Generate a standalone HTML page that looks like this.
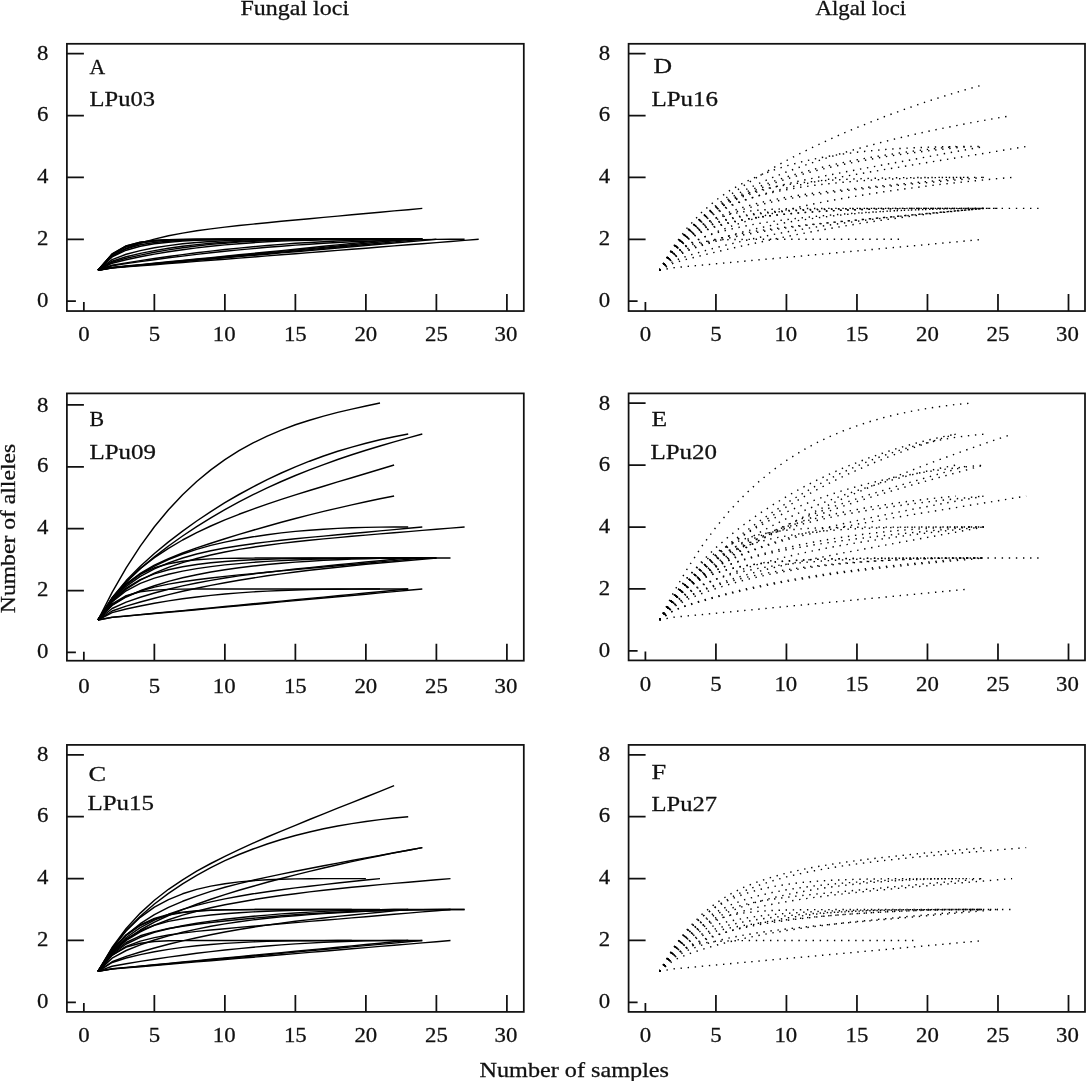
<!DOCTYPE html>
<html lang="en">
<head>
<meta charset="utf-8">
<title>Rarefaction curves: fungal and algal loci</title>
<style>
html, body { margin: 0; padding: 0; background: #fff; }
body { width: 1086px; height: 1081px; overflow: hidden; }
svg { display: block; will-change: transform; }
svg text { font-family: "Liberation Serif", "DejaVu Serif", serif; font-size: 21.0px; fill: #111; stroke: #111; stroke-width: 0.28px; }
svg text.tk { font-size: 22px; }
</style>
</head>
<body>
<svg width="1086" height="1081" viewBox="0 0 1086 1081">
<rect x="0" y="0" width="1086" height="1081" fill="#fff"/>
<g id="panelA">
<g fill="none" stroke="#000" stroke-width="1.45" stroke-linejoin="round">
<path d="M98.0 270.3 L112.1 256.2 L126.2 248.5 L140.3 243.2 L154.4 239.1 L168.5 235.8 L182.6 233.1 L196.7 230.8 L210.8 228.9 L224.9 227.1 L239.0 225.5 L253.1 224.1 L267.2 222.7 L281.3 221.3 L295.4 220.0 L309.5 218.7 L323.6 217.4 L337.7 216.1 L351.8 214.8 L365.9 213.5 L380.0 212.2 L394.1 210.9 L408.2 209.7 L422.3 208.4"/>
<path d="M98.0 270.3 L112.1 267.7 L126.2 266.4 L140.3 265.1 L154.4 263.8 L168.5 262.5 L182.6 261.2 L196.7 259.9 L210.8 258.7 L224.9 257.4 L239.0 256.1 L253.1 254.8 L267.2 253.5 L281.3 252.2 L295.4 250.9 L309.5 249.6 L323.6 248.3 L337.7 247.0 L351.8 245.8 L365.9 244.5 L380.0 243.2 L394.1 241.9 L408.2 240.6 L422.3 239.3"/>
<path d="M98.0 270.3 L112.1 265.3 L126.2 262.9 L140.3 260.6 L154.4 258.5 L168.5 256.5 L182.6 254.6 L196.7 252.8 L210.8 251.1 L224.9 249.5 L239.0 248.1 L253.1 246.7 L267.2 245.5 L281.3 244.4 L295.4 243.3 L309.5 242.5 L323.6 241.7 L337.7 241.0 L351.8 240.4 L365.9 240.0 L380.0 239.6 L394.1 239.4 L408.2 239.3 L422.3 239.3"/>
<path d="M98.0 270.3 L112.1 263.2 L126.2 259.7 L140.3 256.7 L154.4 254.1 L168.5 251.8 L182.6 249.7 L196.7 247.9 L210.8 246.3 L224.9 244.9 L239.0 243.7 L253.1 242.7 L267.2 241.8 L281.3 241.1 L295.4 240.6 L309.5 240.2 L323.6 239.8 L337.7 239.6 L351.8 239.5 L365.9 239.4 L380.0 239.3 L394.1 239.3 L408.2 239.3 L422.3 239.3"/>
<path d="M98.0 270.3 L112.1 261.3 L126.2 256.8 L140.3 253.4 L154.4 250.6 L168.5 248.2 L182.6 246.2 L196.7 244.6 L210.8 243.3 L224.9 242.2 L239.0 241.4 L253.1 240.8 L267.2 240.3 L281.3 239.9 L295.4 239.7 L309.5 239.5 L323.6 239.4 L337.7 239.4 L351.8 239.3 L365.9 239.3 L380.0 239.3 L394.1 239.3 L408.2 239.3 L422.3 239.3"/>
<path d="M98.0 270.3 L112.1 259.6 L126.2 254.3 L140.3 250.6 L154.4 247.8 L168.5 245.6 L182.6 243.8 L196.7 242.5 L210.8 241.5 L224.9 240.8 L239.0 240.2 L253.1 239.9 L267.2 239.6 L281.3 239.5 L295.4 239.4 L309.5 239.4 L323.6 239.3 L337.7 239.3 L351.8 239.3 L365.9 239.3 L380.0 239.3 L394.1 239.3 L408.2 239.3 L422.3 239.3"/>
<path d="M98.0 270.3 L112.1 256.9 L126.2 250.2 L140.3 246.3 L154.4 243.8 L168.5 242.2 L182.6 241.1 L196.7 240.3 L210.8 239.9 L224.9 239.6 L239.0 239.5 L253.1 239.4 L267.2 239.3 L281.3 239.3 L295.4 239.3 L309.5 239.3 L323.6 239.3 L337.7 239.3 L351.8 239.3 L365.9 239.3 L380.0 239.3 L394.1 239.3 L408.2 239.3 L422.3 239.3"/>
<path d="M98.0 270.3 L112.1 254.6 L126.2 246.7 L140.3 242.8 L154.4 241.0 L168.5 240.1 L182.6 239.6 L196.7 239.4 L210.8 239.4 L224.9 239.3 L239.0 239.3 L253.1 239.3 L267.2 239.3 L281.3 239.3 L295.4 239.3 L309.5 239.3 L323.6 239.3 L337.7 239.3 L351.8 239.3 L365.9 239.3 L380.0 239.3 L394.1 239.3 L408.2 239.3 L422.3 239.3"/>
<path d="M98.0 270.3 L112.1 254.1 L126.2 246.0 L140.3 242.2 L154.4 240.5 L168.5 239.7 L182.6 239.5 L196.7 239.4 L210.8 239.3 L224.9 239.3 L239.0 239.3 L253.1 239.3 L267.2 239.3 L281.3 239.3 L295.4 239.3 L309.5 239.3 L323.6 239.3 L337.7 239.3 L351.8 239.3 L365.9 239.3 L380.0 239.3 L394.1 239.3 L408.2 239.3 L422.3 239.3"/>
<path d="M98.0 270.3 L112.1 268.0 L126.2 266.9 L140.3 265.8 L154.4 264.7 L168.5 263.6 L182.6 262.5 L196.7 261.4 L210.8 260.3 L224.9 259.2 L239.0 258.1 L253.1 257.0 L267.2 255.9 L281.3 254.8 L295.4 253.7 L309.5 252.6 L323.6 251.5 L337.7 250.4 L351.8 249.3 L365.9 248.2 L380.0 247.0 L394.1 245.9 L408.2 244.8 L422.3 243.7 L436.4 242.6 L450.5 241.5 L464.6 240.4 L478.7 239.3"/>
<path d="M98.0 270.3 L112.1 265.8 L126.2 263.6 L140.3 261.6 L154.4 259.7 L168.5 257.8 L182.6 256.1 L196.7 254.4 L210.8 252.8 L224.9 251.3 L239.0 249.9 L253.1 248.6 L267.2 247.3 L281.3 246.2 L295.4 245.1 L309.5 244.2 L323.6 243.3 L337.7 242.5 L351.8 241.8 L365.9 241.2 L380.0 240.6 L394.1 240.2 L408.2 239.8 L422.3 239.6 L436.4 239.4 L450.5 239.3 L464.6 239.3"/>
<path d="M98.0 270.3 L112.1 267.6 L126.2 266.2 L140.3 264.9 L154.4 263.5 L168.5 262.2 L182.6 260.8 L196.7 259.5 L210.8 258.1 L224.9 256.8 L239.0 255.5 L253.1 254.1 L267.2 252.8 L281.3 251.4 L295.4 250.1 L309.5 248.7 L323.6 247.4 L337.7 246.0 L351.8 244.7 L365.9 243.3 L380.0 242.0 L394.1 240.7 L408.2 239.3"/>
<path d="M98.0 270.3 L112.1 262.3 L126.2 258.3 L140.3 255.1 L154.4 252.3 L168.5 249.9 L182.6 247.8 L196.7 246.0 L210.8 244.4 L224.9 243.2 L239.0 242.1 L253.1 241.3 L267.2 240.6 L281.3 240.1 L295.4 239.8 L309.5 239.5 L323.6 239.4 L337.7 239.3 L351.8 239.3 L365.9 239.3 L380.0 239.3"/>
<path d="M98.0 270.3 L112.1 254.6 L126.2 246.7 L140.3 242.9 L154.4 241.0 L168.5 240.1 L182.6 239.6 L196.7 239.4 L210.8 239.4 L224.9 239.3 L239.0 239.3 L253.1 239.3 L267.2 239.3 L281.3 239.3 L295.4 239.3 L309.5 239.3 L323.6 239.3 L337.7 239.3 L351.8 239.3 L365.9 239.3 L380.0 239.3 L394.1 239.3"/>
<path d="M98.0 270.3 L112.1 254.0 L126.2 245.9 L140.3 242.1 L154.4 240.4 L168.5 239.7 L182.6 239.4 L196.7 239.3 L210.8 239.3 L224.9 239.3 L239.0 239.3 L253.1 239.3 L267.2 239.3 L281.3 239.3 L295.4 239.3 L309.5 239.3 L323.6 239.3 L337.7 239.3 L351.8 239.3 L365.9 239.3 L380.0 239.3 L394.1 239.3"/>
<path d="M98.0 270.3 L112.1 255.9 L126.2 248.7 L140.3 244.8 L154.4 242.5 L168.5 241.2 L182.6 240.3 L196.7 239.9 L210.8 239.6 L224.9 239.4 L239.0 239.4 L253.1 239.3 L267.2 239.3 L281.3 239.3 L295.4 239.3 L309.5 239.3 L323.6 239.3 L337.7 239.3 L351.8 239.3 L365.9 239.3 L380.0 239.3 L394.1 239.3 L408.2 239.3 L422.3 239.3"/>
<path d="M98.0 270.3 L112.1 267.4 L126.2 266.0 L140.3 264.6 L154.4 263.2 L168.5 261.8 L182.6 260.4 L196.7 259.0 L210.8 257.6 L224.9 256.2 L239.0 254.8 L253.1 253.4 L267.2 252.0 L281.3 250.6 L295.4 249.2 L309.5 247.8 L323.6 246.3 L337.7 244.9 L351.8 243.5 L365.9 242.1 L380.0 240.7 L394.1 239.3"/>
<path d="M98.0 270.3 L112.1 267.8 L126.2 266.5 L140.3 265.3 L154.4 264.1 L168.5 262.8 L182.6 261.6 L196.7 260.4 L210.8 259.1 L224.9 257.9 L239.0 256.6 L253.1 255.4 L267.2 254.2 L281.3 252.9 L295.4 251.7 L309.5 250.5 L323.6 249.2 L337.7 248.0 L351.8 246.7 L365.9 245.5 L380.0 244.3 L394.1 243.0 L408.2 241.8 L422.3 240.6 L436.4 239.3"/>
</g>
<rect x="66.9" y="43.8" width="456.90" height="267.25" fill="none" stroke="#111" stroke-width="1.75"/>
<path d="M83.85 311.05 v-9.0 M154.36 311.05 v-17.0 M224.87 311.05 v-17.0 M295.38 311.05 v-17.0 M365.88 311.05 v-17.0 M436.39 311.05 v-17.0 M506.90 311.05 v-17.0 M66.9 301.20 h9.0 M66.9 239.31 h17.0 M66.9 177.43 h17.0 M66.9 115.54 h17.0 M66.9 53.65 h17.0" fill="none" stroke="#111" stroke-width="1.75"/>
<text x="83.85" y="341.45" text-anchor="middle" textLength="11.40" lengthAdjust="spacingAndGlyphs" class="tk">0</text>
<text x="154.36" y="341.45" text-anchor="middle" textLength="11.40" lengthAdjust="spacingAndGlyphs" class="tk">5</text>
<text x="224.27" y="341.45" text-anchor="middle" textLength="22.80" lengthAdjust="spacingAndGlyphs" class="tk">10</text>
<text x="295.38" y="341.45" text-anchor="middle" textLength="22.80" lengthAdjust="spacingAndGlyphs" class="tk">15</text>
<text x="365.88" y="341.45" text-anchor="middle" textLength="22.80" lengthAdjust="spacingAndGlyphs" class="tk">20</text>
<text x="436.39" y="341.45" text-anchor="middle" textLength="22.80" lengthAdjust="spacingAndGlyphs" class="tk">25</text>
<text x="505.90" y="341.45" text-anchor="middle" textLength="22.80" lengthAdjust="spacingAndGlyphs" class="tk">30</text>
<text x="42.70" y="307.10" text-anchor="middle" textLength="11.40" lengthAdjust="spacingAndGlyphs" class="tk">0</text>
<text x="42.70" y="245.01" text-anchor="middle" textLength="11.40" lengthAdjust="spacingAndGlyphs" class="tk">2</text>
<text x="42.70" y="183.03" text-anchor="middle" textLength="11.40" lengthAdjust="spacingAndGlyphs" class="tk">4</text>
<text x="42.70" y="121.04" text-anchor="middle" textLength="11.40" lengthAdjust="spacingAndGlyphs" class="tk">6</text>
<text x="42.70" y="60.25" text-anchor="middle" textLength="11.40" lengthAdjust="spacingAndGlyphs" class="tk">8</text>
<text x="89.50" y="73.50" text-anchor="start" textLength="15.66" lengthAdjust="spacingAndGlyphs">A</text>
<text x="89.50" y="105.90" text-anchor="start" textLength="65.50" lengthAdjust="spacingAndGlyphs">LPu03</text>
</g>
<g id="panelB">
<g fill="none" stroke="#000" stroke-width="1.45" stroke-linejoin="round">
<path d="M98.0 620.0 L112.1 592.4 L126.2 567.9 L140.3 546.1 L154.4 526.8 L168.5 509.8 L182.6 494.8 L196.7 481.5 L210.8 469.9 L224.9 459.7 L239.0 450.7 L253.1 442.9 L267.2 436.1 L281.3 430.1 L295.4 424.8 L309.5 420.2 L323.6 416.1 L337.7 412.4 L351.8 409.1 L365.9 406.0 L380.0 403.0"/>
<path d="M98.0 620.0 L112.1 597.8 L126.2 580.6 L140.3 566.2 L154.4 553.5 L168.5 541.9 L182.6 531.1 L196.7 521.0 L210.8 511.6 L224.9 502.7 L239.0 494.5 L253.1 486.8 L267.2 479.6 L281.3 473.0 L295.4 466.8 L309.5 461.2 L323.6 456.0 L337.7 451.3 L351.8 447.1 L365.9 443.2 L380.0 439.8 L394.1 436.7 L408.2 434.0"/>
<path d="M98.0 620.0 L112.1 598.5 L126.2 582.2 L140.3 568.7 L154.4 556.9 L168.5 546.0 L182.6 536.0 L196.7 526.6 L210.8 517.9 L224.9 509.6 L239.0 501.9 L253.1 494.7 L267.2 487.9 L281.3 481.5 L295.4 475.5 L309.5 469.9 L323.6 464.6 L337.7 459.5 L351.8 454.8 L365.9 450.3 L380.0 446.0 L394.1 441.9 L408.2 437.9 L422.3 434.0"/>
<path d="M98.0 620.0 L112.1 598.0 L126.2 581.5 L140.3 568.4 L154.4 557.6 L168.5 548.3 L182.6 540.0 L196.7 532.7 L210.8 526.0 L224.9 519.9 L239.0 514.3 L253.1 509.1 L267.2 504.1 L281.3 499.4 L295.4 494.9 L309.5 490.5 L323.6 486.2 L337.7 481.9 L351.8 477.7 L365.9 473.5 L380.0 469.2 L394.1 465.0"/>
<path d="M98.0 620.0 L112.1 598.8 L126.2 584.0 L140.3 573.3 L154.4 565.2 L168.5 558.6 L182.6 553.0 L196.7 547.9 L210.8 543.2 L224.9 538.7 L239.0 534.4 L253.1 530.2 L267.2 526.2 L281.3 522.3 L295.4 518.5 L309.5 514.9 L323.6 511.4 L337.7 508.1 L351.8 504.9 L365.9 501.8 L380.0 498.8 L394.1 496.0"/>
<path d="M98.0 620.0 L112.1 599.4 L126.2 585.0 L140.3 574.4 L154.4 566.2 L168.5 559.5 L182.6 554.0 L196.7 549.4 L210.8 545.4 L224.9 542.1 L239.0 539.2 L253.1 536.8 L267.2 534.7 L281.3 532.9 L295.4 531.4 L309.5 530.2 L323.6 529.2 L337.7 528.4 L351.8 527.8 L365.9 527.4 L380.0 527.1 L394.1 527.0 L408.2 527.0"/>
<path d="M98.0 620.0 L112.1 600.0 L126.2 586.3 L140.3 576.4 L154.4 568.8 L168.5 562.9 L182.6 558.0 L196.7 554.0 L210.8 550.8 L224.9 548.0 L239.0 545.7 L253.1 543.7 L267.2 541.9 L281.3 540.3 L295.4 538.8 L309.5 537.4 L323.6 536.1 L337.7 534.8 L351.8 533.5 L365.9 532.2 L380.0 530.9 L394.1 529.6 L408.2 528.3 L422.3 527.0"/>
<path d="M98.0 620.0 L112.1 601.5 L126.2 589.2 L140.3 580.2 L154.4 573.2 L168.5 567.4 L182.6 562.6 L196.7 558.5 L210.8 555.0 L224.9 552.0 L239.0 549.4 L253.1 547.2 L267.2 545.2 L281.3 543.4 L295.4 541.7 L309.5 540.3 L323.6 538.9 L337.7 537.6 L351.8 536.3 L365.9 535.1 L380.0 533.9 L394.1 532.7 L408.2 531.6 L422.3 530.4 L436.4 529.3 L450.5 528.1 L464.6 527.0"/>
<path d="M98.0 620.0 L112.1 600.6 L126.2 588.1 L140.3 579.7 L154.4 573.9 L168.5 569.8 L182.6 566.8 L196.7 564.5 L210.8 562.8 L224.9 561.5 L239.0 560.5 L253.1 559.8 L267.2 559.2 L281.3 558.8 L295.4 558.5 L309.5 558.3 L323.6 558.2 L337.7 558.1 L351.8 558.0 L365.9 558.0 L380.0 558.0 L394.1 558.0 L408.2 558.0 L422.3 558.0 L436.4 558.0"/>
<path d="M98.0 620.0 L112.1 598.5 L126.2 583.9 L140.3 574.1 L154.4 567.8 L168.5 563.7 L182.6 561.2 L196.7 559.8 L210.8 558.9 L224.9 558.4 L239.0 558.2 L253.1 558.1 L267.2 558.0 L281.3 558.0 L295.4 558.0 L309.5 558.0 L323.6 558.0 L337.7 558.0 L351.8 558.0 L365.9 558.0 L380.0 558.0 L394.1 558.0 L408.2 558.0 L422.3 558.0 L436.4 558.0"/>
<path d="M98.0 620.0 L112.1 602.0 L126.2 590.8 L140.3 583.4 L154.4 578.1 L168.5 574.2 L182.6 571.1 L196.7 568.6 L210.8 566.6 L224.9 564.9 L239.0 563.6 L253.1 562.4 L267.2 561.4 L281.3 560.6 L295.4 560.0 L309.5 559.4 L323.6 559.0 L337.7 558.7 L351.8 558.4 L365.9 558.2 L380.0 558.1 L394.1 558.0 L408.2 558.0 L422.3 558.0 L436.4 558.0 L450.5 558.0"/>
<path d="M98.0 620.0 L112.1 605.5 L126.2 597.0 L140.3 590.8 L154.4 585.7 L168.5 581.4 L182.6 577.8 L196.7 574.7 L210.8 572.0 L224.9 569.7 L239.0 567.7 L253.1 566.0 L267.2 564.5 L281.3 563.2 L295.4 562.1 L309.5 561.2 L323.6 560.4 L337.7 559.7 L351.8 559.1 L365.9 558.7 L380.0 558.3 L394.1 558.1 L408.2 558.0 L422.3 558.0"/>
<path d="M98.0 620.0 L112.1 608.5 L126.2 602.1 L140.3 597.2 L154.4 593.0 L168.5 589.2 L182.6 585.9 L196.7 583.0 L210.8 580.4 L224.9 578.0 L239.0 575.9 L253.1 574.0 L267.2 572.2 L281.3 570.6 L295.4 569.0 L309.5 567.6 L323.6 566.1 L337.7 564.8 L351.8 563.4 L365.9 562.0 L380.0 560.7 L394.1 559.3 L408.2 558.0"/>
<path d="M98.0 620.0 L112.1 611.0 L126.2 606.1 L140.3 602.0 L154.4 598.2 L168.5 594.6 L182.6 591.3 L196.7 588.2 L210.8 585.4 L224.9 582.7 L239.0 580.3 L253.1 578.0 L267.2 575.8 L281.3 573.9 L295.4 572.0 L309.5 570.3 L323.6 568.7 L337.7 567.2 L351.8 565.7 L365.9 564.3 L380.0 563.0 L394.1 561.7 L408.2 560.5 L422.3 559.2 L436.4 558.0"/>
<path d="M98.0 620.0 L112.1 604.8 L126.2 596.4 L140.3 591.0 L154.4 587.1 L168.5 584.1 L182.6 581.7 L196.7 579.7 L210.8 578.0 L224.9 576.4 L239.0 574.9 L253.1 573.6 L267.2 572.2 L281.3 570.9 L295.4 569.6 L309.5 568.3 L323.6 567.0 L337.7 565.8 L351.8 564.5 L365.9 563.2 L380.0 561.9 L394.1 560.6 L408.2 559.3 L422.3 558.0"/>
<path d="M98.0 620.0 L112.1 603.8 L126.2 595.6 L140.3 591.8 L154.4 590.1 L168.5 589.4 L182.6 589.1 L196.7 589.0 L210.8 589.0 L224.9 589.0 L239.0 589.0 L253.1 589.0 L267.2 589.0 L281.3 589.0 L295.4 589.0 L309.5 589.0 L323.6 589.0 L337.7 589.0 L351.8 589.0 L365.9 589.0 L380.0 589.0"/>
<path d="M98.0 620.0 L112.1 617.3 L126.2 616.0 L140.3 614.6 L154.4 613.3 L168.5 611.9 L182.6 610.6 L196.7 609.2 L210.8 607.9 L224.9 606.5 L239.0 605.2 L253.1 603.8 L267.2 602.5 L281.3 601.1 L295.4 599.8 L309.5 598.4 L323.6 597.1 L337.7 595.7 L351.8 594.4 L365.9 593.0 L380.0 591.7 L394.1 590.3 L408.2 589.0"/>
<path d="M98.0 620.0 L112.1 617.4 L126.2 616.1 L140.3 614.8 L154.4 613.5 L168.5 612.2 L182.6 611.0 L196.7 609.7 L210.8 608.4 L224.9 607.1 L239.0 605.8 L253.1 604.5 L267.2 603.2 L281.3 601.9 L295.4 600.6 L309.5 599.3 L323.6 598.0 L337.7 596.8 L351.8 595.5 L365.9 594.2 L380.0 592.9 L394.1 591.6 L408.2 590.3 L422.3 589.0"/>
<path d="M98.0 620.0 L112.1 612.6 L126.2 609.0 L140.3 606.0 L154.4 603.3 L168.5 600.9 L182.6 598.8 L196.7 597.0 L210.8 595.4 L224.9 594.0 L239.0 592.9 L253.1 591.9 L267.2 591.1 L281.3 590.5 L295.4 590.0 L309.5 589.6 L323.6 589.4 L337.7 589.2 L351.8 589.1 L365.9 589.0 L380.0 589.0 L394.1 589.0 L408.2 589.0"/>
</g>
<rect x="66.9" y="393.4" width="456.90" height="267.30" fill="none" stroke="#111" stroke-width="1.75"/>
<path d="M83.85 660.7 v-9.0 M154.36 660.7 v-17.0 M224.87 660.7 v-17.0 M295.38 660.7 v-17.0 M365.88 660.7 v-17.0 M436.39 660.7 v-17.0 M506.90 660.7 v-17.0 M66.9 652.40 h9.0 M66.9 590.52 h17.0 M66.9 528.65 h17.0 M66.9 466.77 h17.0 M66.9 404.90 h17.0" fill="none" stroke="#111" stroke-width="1.75"/>
<text x="83.85" y="692.50" text-anchor="middle" textLength="11.40" lengthAdjust="spacingAndGlyphs" class="tk">0</text>
<text x="154.36" y="692.50" text-anchor="middle" textLength="11.40" lengthAdjust="spacingAndGlyphs" class="tk">5</text>
<text x="224.27" y="692.50" text-anchor="middle" textLength="22.80" lengthAdjust="spacingAndGlyphs" class="tk">10</text>
<text x="295.38" y="692.50" text-anchor="middle" textLength="22.80" lengthAdjust="spacingAndGlyphs" class="tk">15</text>
<text x="365.88" y="692.50" text-anchor="middle" textLength="22.80" lengthAdjust="spacingAndGlyphs" class="tk">20</text>
<text x="436.39" y="692.50" text-anchor="middle" textLength="22.80" lengthAdjust="spacingAndGlyphs" class="tk">25</text>
<text x="505.90" y="692.50" text-anchor="middle" textLength="22.80" lengthAdjust="spacingAndGlyphs" class="tk">30</text>
<text x="42.70" y="658.30" text-anchor="middle" textLength="11.40" lengthAdjust="spacingAndGlyphs" class="tk">0</text>
<text x="42.70" y="596.23" text-anchor="middle" textLength="11.40" lengthAdjust="spacingAndGlyphs" class="tk">2</text>
<text x="42.70" y="534.25" text-anchor="middle" textLength="11.40" lengthAdjust="spacingAndGlyphs" class="tk">4</text>
<text x="42.70" y="472.27" text-anchor="middle" textLength="11.40" lengthAdjust="spacingAndGlyphs" class="tk">6</text>
<text x="42.70" y="411.50" text-anchor="middle" textLength="11.40" lengthAdjust="spacingAndGlyphs" class="tk">8</text>
<text x="89.50" y="425.70" text-anchor="start" textLength="14.60" lengthAdjust="spacingAndGlyphs">B</text>
<text x="89.50" y="459.40" text-anchor="start" textLength="66.50" lengthAdjust="spacingAndGlyphs">LPu09</text>
</g>
<g id="panelC">
<g fill="none" stroke="#000" stroke-width="1.45" stroke-linejoin="round">
<path d="M98.0 971.4 L112.1 947.5 L126.2 928.5 L140.3 913.1 L154.4 900.2 L168.5 889.3 L182.6 879.8 L196.7 871.2 L210.8 863.5 L224.9 856.3 L239.0 849.6 L253.1 843.2 L267.2 837.0 L281.3 831.1 L295.4 825.3 L309.5 819.5 L323.6 813.9 L337.7 808.2 L351.8 802.6 L365.9 797.0 L380.0 791.3 L394.1 785.7"/>
<path d="M98.0 971.4 L112.1 948.6 L126.2 930.8 L140.3 916.3 L154.4 904.0 L168.5 893.3 L182.6 883.8 L196.7 875.3 L210.8 867.6 L224.9 860.7 L239.0 854.5 L253.1 849.0 L267.2 844.0 L281.3 839.5 L295.4 835.5 L309.5 832.0 L323.6 828.8 L337.7 826.0 L351.8 823.6 L365.9 821.5 L380.0 819.6 L394.1 818.0 L408.2 816.7"/>
<path d="M98.0 971.4 L112.1 950.2 L126.2 935.1 L140.3 923.7 L154.4 914.7 L168.5 907.4 L182.6 901.3 L196.7 896.1 L210.8 891.4 L224.9 887.3 L239.0 883.6 L253.1 880.2 L267.2 877.1 L281.3 874.1 L295.4 871.2 L309.5 868.5 L323.6 865.8 L337.7 863.1 L351.8 860.5 L365.9 857.9 L380.0 855.4 L394.1 852.8 L408.2 850.2 L422.3 847.6"/>
<path d="M98.0 971.4 L112.1 952.5 L126.2 939.7 L140.3 930.0 L154.4 922.2 L168.5 915.5 L182.6 909.6 L196.7 904.2 L210.8 899.2 L224.9 894.6 L239.0 890.3 L253.1 886.2 L267.2 882.3 L281.3 878.5 L295.4 874.9 L309.5 871.4 L323.6 868.0 L337.7 864.8 L351.8 861.6 L365.9 858.6 L380.0 855.7 L394.1 852.9 L408.2 850.2 L422.3 847.6"/>
<path d="M98.0 971.4 L112.1 948.1 L126.2 930.6 L140.3 917.3 L154.4 907.2 L168.5 899.6 L182.6 893.8 L196.7 889.4 L210.8 886.1 L224.9 883.7 L239.0 881.9 L253.1 880.7 L267.2 879.8 L281.3 879.2 L295.4 878.9 L309.5 878.7 L323.6 878.6 L337.7 878.6 L351.8 878.6 L365.9 878.6"/>
<path d="M98.0 971.4 L112.1 951.2 L126.2 937.5 L140.3 927.6 L154.4 920.1 L168.5 914.3 L182.6 909.4 L196.7 905.4 L210.8 901.9 L224.9 898.9 L239.0 896.2 L253.1 893.8 L267.2 891.7 L281.3 889.7 L295.4 887.9 L309.5 886.2 L323.6 884.6 L337.7 883.0 L351.8 881.5 L365.9 880.0 L380.0 878.6"/>
<path d="M98.0 971.4 L112.1 952.8 L126.2 940.5 L140.3 931.8 L154.4 925.1 L168.5 919.7 L182.6 915.1 L196.7 911.2 L210.8 907.8 L224.9 904.8 L239.0 902.2 L253.1 899.7 L267.2 897.5 L281.3 895.5 L295.4 893.7 L309.5 891.9 L323.6 890.3 L337.7 888.8 L351.8 887.3 L365.9 886.0 L380.0 884.6 L394.1 883.4 L408.2 882.2 L422.3 881.0 L436.4 879.8 L450.5 878.6"/>
<path d="M98.0 971.4 L112.1 949.7 L126.2 934.8 L140.3 924.9 L154.4 918.5 L168.5 914.5 L182.6 912.1 L196.7 910.8 L210.8 910.1 L224.9 909.7 L239.0 909.6 L253.1 909.5 L267.2 909.5 L281.3 909.5 L295.4 909.5 L309.5 909.5 L323.6 909.5 L337.7 909.5 L351.8 909.5"/>
<path d="M98.0 971.4 L112.1 949.9 L126.2 935.3 L140.3 925.5 L154.4 919.1 L168.5 915.1 L182.6 912.6 L196.7 911.2 L210.8 910.3 L224.9 909.9 L239.0 909.7 L253.1 909.6 L267.2 909.5 L281.3 909.5 L295.4 909.5 L309.5 909.5 L323.6 909.5 L337.7 909.5 L351.8 909.5 L365.9 909.5 L380.0 909.5"/>
<path d="M98.0 971.4 L112.1 951.7 L126.2 939.0 L140.3 930.8 L154.4 925.3 L168.5 921.4 L182.6 918.7 L196.7 916.6 L210.8 915.0 L224.9 913.8 L239.0 912.8 L253.1 911.9 L267.2 911.3 L281.3 910.8 L295.4 910.4 L309.5 910.1 L323.6 909.9 L337.7 909.8 L351.8 909.7 L365.9 909.6 L380.0 909.6 L394.1 909.5 L408.2 909.5 L422.3 909.5 L436.4 909.5 L450.5 909.5 L464.6 909.5"/>
<path d="M98.0 971.4 L112.1 953.3 L126.2 942.5 L140.3 935.8 L154.4 931.6 L168.5 928.5 L182.6 926.2 L196.7 924.3 L210.8 922.5 L224.9 921.0 L239.0 919.5 L253.1 918.2 L267.2 917.0 L281.3 915.8 L295.4 914.8 L309.5 913.8 L323.6 913.0 L337.7 912.2 L351.8 911.5 L365.9 911.0 L380.0 910.5 L394.1 910.1 L408.2 909.8 L422.3 909.6 L436.4 909.5 L450.5 909.5"/>
<path d="M98.0 971.4 L112.1 961.8 L126.2 956.4 L140.3 952.0 L154.4 948.0 L168.5 944.3 L182.6 940.9 L196.7 937.7 L210.8 934.7 L224.9 932.0 L239.0 929.5 L253.1 927.2 L267.2 925.1 L281.3 923.1 L295.4 921.3 L309.5 919.6 L323.6 918.0 L337.7 916.4 L351.8 915.0 L365.9 913.6 L380.0 912.2 L394.1 910.9 L408.2 909.5"/>
<path d="M98.0 971.4 L112.1 955.3 L126.2 946.4 L140.3 941.1 L154.4 937.6 L168.5 935.0 L182.6 933.1 L196.7 931.4 L210.8 930.0 L224.9 928.7 L239.0 927.4 L253.1 926.2 L267.2 925.0 L281.3 923.8 L295.4 922.6 L309.5 921.4 L323.6 920.2 L337.7 919.1 L351.8 917.9 L365.9 916.7 L380.0 915.5 L394.1 914.3 L408.2 913.1 L422.3 911.9 L436.4 910.7 L450.5 909.5"/>
<path d="M98.0 971.4 L112.1 954.3 L126.2 944.0 L140.3 937.3 L154.4 932.4 L168.5 928.7 L182.6 925.7 L196.7 923.2 L210.8 921.1 L224.9 919.3 L239.0 917.7 L253.1 916.3 L267.2 915.1 L281.3 913.9 L295.4 913.0 L309.5 912.1 L323.6 911.4 L337.7 910.8 L351.8 910.3 L365.9 909.9 L380.0 909.7 L394.1 909.5 L408.2 909.5"/>
<path d="M98.0 971.4 L112.1 958.2 L126.2 950.5 L140.3 944.8 L154.4 940.0 L168.5 935.9 L182.6 932.2 L196.7 929.1 L210.8 926.3 L224.9 923.9 L239.0 921.8 L253.1 919.9 L267.2 918.3 L281.3 916.9 L295.4 915.7 L309.5 914.6 L323.6 913.6 L337.7 912.8 L351.8 912.0 L365.9 911.4 L380.0 910.9 L394.1 910.4 L408.2 910.1 L422.3 909.8 L436.4 909.6 L450.5 909.5 L464.6 909.5"/>
<path d="M98.0 971.4 L112.1 955.2 L126.2 947.0 L140.3 943.2 L154.4 941.5 L168.5 940.8 L182.6 940.6 L196.7 940.5 L210.8 940.5 L224.9 940.5 L239.0 940.5 L253.1 940.5 L267.2 940.5 L281.3 940.5 L295.4 940.5 L309.5 940.5 L323.6 940.5 L337.7 940.5 L351.8 940.5"/>
<path d="M98.0 971.4 L112.1 962.5 L126.2 958.0 L140.3 954.6 L154.4 951.8 L168.5 949.4 L182.6 947.4 L196.7 945.8 L210.8 944.5 L224.9 943.4 L239.0 942.6 L253.1 941.9 L267.2 941.4 L281.3 941.1 L295.4 940.9 L309.5 940.7 L323.6 940.6 L337.7 940.5 L351.8 940.5 L365.9 940.5 L380.0 940.5 L394.1 940.5 L408.2 940.5 L422.3 940.5"/>
<path d="M98.0 971.4 L112.1 968.8 L126.2 967.4 L140.3 966.1 L154.4 964.7 L168.5 963.4 L182.6 962.0 L196.7 960.7 L210.8 959.3 L224.9 958.0 L239.0 956.6 L253.1 955.3 L267.2 953.9 L281.3 952.6 L295.4 951.3 L309.5 949.9 L323.6 948.6 L337.7 947.2 L351.8 945.9 L365.9 944.5 L380.0 943.2 L394.1 941.8 L408.2 940.5"/>
<path d="M98.0 971.4 L112.1 968.9 L126.2 967.6 L140.3 966.3 L154.4 965.0 L168.5 963.7 L182.6 962.4 L196.7 961.1 L210.8 959.8 L224.9 958.5 L239.0 957.3 L253.1 956.0 L267.2 954.7 L281.3 953.4 L295.4 952.1 L309.5 950.8 L323.6 949.5 L337.7 948.2 L351.8 946.9 L365.9 945.6 L380.0 944.4 L394.1 943.1 L408.2 941.8 L422.3 940.5"/>
<path d="M98.0 971.4 L112.1 969.1 L126.2 967.9 L140.3 966.7 L154.4 965.5 L168.5 964.3 L182.6 963.1 L196.7 961.9 L210.8 960.7 L224.9 959.5 L239.0 958.3 L253.1 957.2 L267.2 956.0 L281.3 954.8 L295.4 953.6 L309.5 952.4 L323.6 951.2 L337.7 950.0 L351.8 948.8 L365.9 947.6 L380.0 946.4 L394.1 945.2 L408.2 944.1 L422.3 942.9 L436.4 941.7 L450.5 940.5"/>
<path d="M98.0 971.4 L112.1 966.3 L126.2 963.7 L140.3 961.4 L154.4 959.2 L168.5 957.1 L182.6 955.2 L196.7 953.3 L210.8 951.6 L224.9 950.0 L239.0 948.6 L253.1 947.2 L267.2 946.0 L281.3 944.9 L295.4 943.9 L309.5 943.1 L323.6 942.3 L337.7 941.7 L351.8 941.2 L365.9 940.9 L380.0 940.6 L394.1 940.5 L408.2 940.5"/>
</g>
<rect x="66.9" y="744.9" width="456.90" height="267.00" fill="none" stroke="#111" stroke-width="1.75"/>
<path d="M83.85 1011.9 v-9.0 M154.36 1011.9 v-17.0 M224.87 1011.9 v-17.0 M295.38 1011.9 v-17.0 M365.88 1011.9 v-17.0 M436.39 1011.9 v-17.0 M506.90 1011.9 v-17.0 M66.9 1002.40 h9.0 M66.9 940.49 h17.0 M66.9 878.58 h17.0 M66.9 816.66 h17.0 M66.9 754.75 h17.0" fill="none" stroke="#111" stroke-width="1.75"/>
<text x="83.85" y="1042.30" text-anchor="middle" textLength="11.40" lengthAdjust="spacingAndGlyphs" class="tk">0</text>
<text x="154.36" y="1042.30" text-anchor="middle" textLength="11.40" lengthAdjust="spacingAndGlyphs" class="tk">5</text>
<text x="224.27" y="1042.30" text-anchor="middle" textLength="22.80" lengthAdjust="spacingAndGlyphs" class="tk">10</text>
<text x="295.38" y="1042.30" text-anchor="middle" textLength="22.80" lengthAdjust="spacingAndGlyphs" class="tk">15</text>
<text x="365.88" y="1042.30" text-anchor="middle" textLength="22.80" lengthAdjust="spacingAndGlyphs" class="tk">20</text>
<text x="436.39" y="1042.30" text-anchor="middle" textLength="22.80" lengthAdjust="spacingAndGlyphs" class="tk">25</text>
<text x="505.90" y="1042.30" text-anchor="middle" textLength="22.80" lengthAdjust="spacingAndGlyphs" class="tk">30</text>
<text x="42.70" y="1008.30" text-anchor="middle" textLength="11.40" lengthAdjust="spacingAndGlyphs" class="tk">0</text>
<text x="42.70" y="946.19" text-anchor="middle" textLength="11.40" lengthAdjust="spacingAndGlyphs" class="tk">2</text>
<text x="42.70" y="884.18" text-anchor="middle" textLength="11.40" lengthAdjust="spacingAndGlyphs" class="tk">4</text>
<text x="42.70" y="822.16" text-anchor="middle" textLength="11.40" lengthAdjust="spacingAndGlyphs" class="tk">6</text>
<text x="42.70" y="761.35" text-anchor="middle" textLength="11.40" lengthAdjust="spacingAndGlyphs" class="tk">8</text>
<text x="88.50" y="780.70" text-anchor="start" textLength="17.62" lengthAdjust="spacingAndGlyphs">C</text>
<text x="87.50" y="809.80" text-anchor="start" textLength="66.50" lengthAdjust="spacingAndGlyphs">LPu15</text>
</g>
<g id="panelD">
<g fill="none" stroke="#000" stroke-width="1.4" stroke-linejoin="round" stroke-dasharray="1.4 5.7">
<path d="M659.5 270.3 L673.6 248.1 L687.7 231.1 L701.8 217.3 L715.9 205.5 L730.0 195.0 L744.1 185.4 L758.2 176.6 L772.3 168.3 L786.4 160.6 L800.5 153.3 L814.6 146.4 L828.7 139.8 L842.8 133.5 L857.0 127.6 L871.1 121.9 L885.2 116.4 L899.3 111.2 L913.4 106.2 L927.5 101.4 L941.6 96.9 L955.7 92.6 L969.8 88.5 L983.9 84.6"/>
<path d="M659.5 270.3 L673.6 247.6 L687.7 230.6 L701.8 217.4 L715.9 206.8 L730.0 198.0 L744.1 190.4 L758.2 183.7 L772.3 177.6 L786.4 172.0 L800.5 166.8 L814.6 161.9 L828.7 157.3 L842.8 153.0 L857.0 148.9 L871.1 145.1 L885.2 141.4 L899.3 137.9 L913.4 134.6 L927.5 131.5 L941.6 128.5 L955.7 125.7 L969.8 123.0 L983.9 120.4 L998.0 117.9 L1012.1 115.5"/>
<path d="M659.5 270.3 L673.6 247.9 L687.7 231.3 L701.8 218.5 L715.9 208.3 L730.0 200.0 L744.1 193.0 L758.2 187.0 L772.3 181.7 L786.4 177.0 L800.5 172.8 L814.6 169.1 L828.7 165.7 L842.8 162.6 L857.0 159.8 L871.1 157.3 L885.2 155.1 L899.3 153.0 L913.4 151.1 L927.5 149.4 L941.6 147.9 L955.7 146.5"/>
<path d="M659.5 270.3 L673.6 247.7 L687.7 231.1 L701.8 218.8 L715.9 209.4 L730.0 202.1 L744.1 196.3 L758.2 191.5 L772.3 187.5 L786.4 184.0 L800.5 180.8 L814.6 177.9 L828.7 175.1 L842.8 172.4 L857.0 169.7 L871.1 167.1 L885.2 164.5 L899.3 162.0 L913.4 159.4 L927.5 156.8 L941.6 154.2 L955.7 151.6 L969.8 149.1 L983.9 146.5"/>
<path d="M659.5 270.3 L673.6 248.8 L687.7 233.5 L701.8 222.1 L715.9 213.3 L730.0 206.3 L744.1 200.5 L758.2 195.7 L772.3 191.6 L786.4 188.0 L800.5 184.8 L814.6 181.9 L828.7 179.2 L842.8 176.6 L857.0 174.2 L871.1 171.8 L885.2 169.4 L899.3 167.1 L913.4 164.8 L927.5 162.5 L941.6 160.2 L955.7 157.9 L969.8 155.6 L983.9 153.4 L998.0 151.1 L1012.1 148.8 L1026.2 146.5"/>
<path d="M659.5 270.3 L673.6 246.2 L687.7 227.2 L701.8 212.2 L715.9 200.2 L730.0 190.4 L744.1 182.5 L758.2 175.9 L772.3 170.5 L786.4 165.9 L800.5 162.1 L814.6 158.9 L828.7 156.2 L842.8 154.0 L857.0 152.2 L871.1 150.7 L885.2 149.5 L899.3 148.5 L913.4 147.8 L927.5 147.2 L941.6 146.8 L955.7 146.6 L969.8 146.5 L983.9 146.5"/>
<path d="M659.5 270.3 L673.6 248.4 L687.7 232.3 L701.8 219.9 L715.9 210.1 L730.0 201.9 L744.1 195.0 L758.2 189.0 L772.3 183.7 L786.4 179.0 L800.5 174.8 L814.6 171.0 L828.7 167.6 L842.8 164.5 L857.0 161.7 L871.1 159.1 L885.2 156.7 L899.3 154.6 L913.4 152.7 L927.5 150.9 L941.6 149.3 L955.7 147.8 L969.8 146.5"/>
<path d="M659.5 270.3 L673.6 249.8 L687.7 235.7 L701.8 225.5 L715.9 217.8 L730.0 211.8 L744.1 207.0 L758.2 203.1 L772.3 199.9 L786.4 197.3 L800.5 195.0 L814.6 193.1 L828.7 191.3 L842.8 189.8 L857.0 188.3 L871.1 186.9 L885.2 185.5 L899.3 184.2 L913.4 182.8 L927.5 181.5 L941.6 180.1 L955.7 178.8 L969.8 177.4"/>
<path d="M659.5 270.3 L673.6 250.4 L687.7 236.9 L701.8 227.2 L715.9 219.8 L730.0 213.9 L744.1 209.1 L758.2 205.2 L772.3 201.9 L786.4 199.1 L800.5 196.7 L814.6 194.6 L828.7 192.7 L842.8 191.0 L857.0 189.4 L871.1 187.9 L885.2 186.6 L899.3 185.2 L913.4 183.9 L927.5 182.6 L941.6 181.3 L955.7 180.0 L969.8 178.7 L983.9 177.4"/>
<path d="M659.5 270.3 L673.6 254.9 L687.7 245.4 L701.8 238.1 L715.9 232.0 L730.0 226.6 L744.1 221.8 L758.2 217.4 L772.3 213.5 L786.4 209.9 L800.5 206.7 L814.6 203.7 L828.7 200.9 L842.8 198.4 L857.0 196.0 L871.1 193.7 L885.2 191.6 L899.3 189.6 L913.4 187.8 L927.5 186.0 L941.6 184.3 L955.7 182.8 L969.8 181.3 L983.9 179.9 L998.0 178.6 L1012.1 177.4"/>
<path d="M659.5 270.3 L673.6 248.2 L687.7 232.4 L701.8 220.7 L715.9 212.0 L730.0 205.4 L744.1 200.1 L758.2 195.9 L772.3 192.5 L786.4 189.7 L800.5 187.3 L814.6 185.3 L828.7 183.7 L842.8 182.3 L857.0 181.1 L871.1 180.1 L885.2 179.3 L899.3 178.7 L913.4 178.2 L927.5 177.8 L941.6 177.5 L955.7 177.4 L969.8 177.4"/>
<path d="M659.5 270.3 L673.6 247.2 L687.7 229.9 L701.8 217.0 L715.9 207.4 L730.0 200.1 L744.1 194.6 L758.2 190.5 L772.3 187.3 L786.4 184.8 L800.5 182.9 L814.6 181.4 L828.7 180.3 L842.8 179.5 L857.0 178.8 L871.1 178.3 L885.2 178.0 L899.3 177.7 L913.4 177.6 L927.5 177.5 L941.6 177.4 L955.7 177.4 L969.8 177.4 L983.9 177.4"/>
<path d="M659.5 270.3 L673.6 250.5 L687.7 237.7 L701.8 229.1 L715.9 223.3 L730.0 219.1 L744.1 216.2 L758.2 214.0 L772.3 212.5 L786.4 211.3 L800.5 210.4 L814.6 209.8 L828.7 209.3 L842.8 209.0 L857.0 208.8 L871.1 208.6 L885.2 208.5 L899.3 208.4 L913.4 208.4 L927.5 208.4 L941.6 208.4 L955.7 208.4 L969.8 208.4 L983.9 208.4 L998.0 208.4 L1012.1 208.4 L1026.2 208.4 L1040.3 208.4"/>
<path d="M659.5 270.3 L673.6 248.8 L687.7 234.3 L701.8 224.6 L715.9 218.2 L730.0 214.2 L744.1 211.7 L758.2 210.2 L772.3 209.3 L786.4 208.8 L800.5 208.6 L814.6 208.5 L828.7 208.4 L842.8 208.4 L857.0 208.4 L871.1 208.4 L885.2 208.4 L899.3 208.4 L913.4 208.4 L927.5 208.4 L941.6 208.4 L955.7 208.4 L969.8 208.4 L983.9 208.4"/>
<path d="M659.5 270.3 L673.6 251.5 L687.7 239.8 L701.8 232.1 L715.9 226.7 L730.0 222.8 L744.1 219.8 L758.2 217.5 L772.3 215.6 L786.4 214.1 L800.5 212.8 L814.6 211.8 L828.7 210.9 L842.8 210.2 L857.0 209.7 L871.1 209.2 L885.2 208.9 L899.3 208.7 L913.4 208.5 L927.5 208.4 L941.6 208.4 L955.7 208.4 L969.8 208.4 L983.9 208.4"/>
<path d="M659.5 270.3 L673.6 254.0 L687.7 244.3 L701.8 237.8 L715.9 233.0 L730.0 229.3 L744.1 226.2 L758.2 223.6 L772.3 221.5 L786.4 219.6 L800.5 218.0 L814.6 216.5 L828.7 215.2 L842.8 214.1 L857.0 213.0 L871.1 212.1 L885.2 211.3 L899.3 210.5 L913.4 209.9 L927.5 209.4 L941.6 209.0 L955.7 208.7 L969.8 208.5 L983.9 208.4 L998.0 208.4"/>
<path d="M659.5 270.3 L673.6 251.1 L687.7 239.0 L701.8 231.2 L715.9 225.9 L730.0 222.2 L744.1 219.4 L758.2 217.2 L772.3 215.4 L786.4 214.0 L800.5 212.8 L814.6 211.7 L828.7 210.9 L842.8 210.2 L857.0 209.7 L871.1 209.2 L885.2 208.9 L899.3 208.7 L913.4 208.5 L927.5 208.4 L941.6 208.4 L955.7 208.4 L969.8 208.4 L983.9 208.4"/>
<path d="M659.5 270.3 L673.6 257.7 L687.7 250.4 L701.8 244.7 L715.9 239.8 L730.0 235.5 L744.1 231.6 L758.2 228.2 L772.3 225.2 L786.4 222.5 L800.5 220.2 L814.6 218.2 L828.7 216.4 L842.8 214.8 L857.0 213.5 L871.1 212.4 L885.2 211.4 L899.3 210.6 L913.4 210.0 L927.5 209.4 L941.6 209.0 L955.7 208.7 L969.8 208.5 L983.9 208.4 L998.0 208.4"/>
<path d="M659.5 270.3 L673.6 256.2 L687.7 248.5 L701.8 243.2 L715.9 239.1 L730.0 235.8 L744.1 233.1 L758.2 230.8 L772.3 228.9 L786.4 227.1 L800.5 225.5 L814.6 224.1 L828.7 222.7 L842.8 221.3 L857.0 220.0 L871.1 218.7 L885.2 217.4 L899.3 216.1 L913.4 214.8 L927.5 213.5 L941.6 212.2 L955.7 210.9 L969.8 209.7 L983.9 208.4"/>
<path d="M659.5 270.3 L673.6 257.6 L687.7 250.6 L701.8 245.5 L715.9 241.3 L730.0 237.8 L744.1 234.8 L758.2 232.2 L772.3 229.9 L786.4 227.9 L800.5 226.1 L814.6 224.4 L828.7 222.9 L842.8 221.4 L857.0 220.1 L871.1 218.7 L885.2 217.4 L899.3 216.1 L913.4 214.8 L927.5 213.5 L941.6 212.2 L955.7 210.9 L969.8 209.7 L983.9 208.4"/>
<path d="M659.5 270.3 L673.6 250.3 L687.7 237.2 L701.8 228.5 L715.9 222.5 L730.0 218.3 L744.1 215.4 L758.2 213.2 L772.3 211.7 L786.4 210.6 L800.5 209.8 L814.6 209.3 L828.7 208.9 L842.8 208.7 L857.0 208.5 L871.1 208.4 L885.2 208.4 L899.3 208.4 L913.4 208.4 L927.5 208.4 L941.6 208.4 L955.7 208.4"/>
<path d="M659.5 270.3 L673.6 253.9 L687.7 245.7 L701.8 241.9 L715.9 240.2 L730.0 239.6 L744.1 239.4 L758.2 239.3 L772.3 239.3 L786.4 239.3 L800.5 239.3 L814.6 239.3 L828.7 239.3 L842.8 239.3 L857.0 239.3 L871.1 239.3 L885.2 239.3 L899.3 239.3"/>
<path d="M659.5 270.3 L673.6 267.7 L687.7 266.4 L701.8 265.1 L715.9 263.8 L730.0 262.5 L744.1 261.2 L758.2 259.9 L772.3 258.7 L786.4 257.4 L800.5 256.1 L814.6 254.8 L828.7 253.5 L842.8 252.2 L857.0 250.9 L871.1 249.6 L885.2 248.3 L899.3 247.0 L913.4 245.8 L927.5 244.5 L941.6 243.2 L955.7 241.9 L969.8 240.6 L983.9 239.3"/>
<path d="M659.5 270.3 L673.6 261.0 L687.7 255.8 L701.8 251.6 L715.9 247.7 L730.0 244.1 L744.1 240.7 L758.2 237.6 L772.3 234.7 L786.4 232.0 L800.5 229.5 L814.6 227.2 L828.7 225.1 L842.8 223.1 L857.0 221.3 L871.1 219.5 L885.2 217.9 L899.3 216.4 L913.4 215.0 L927.5 213.6 L941.6 212.3 L955.7 210.9 L969.8 209.7 L983.9 208.4"/>
<path d="M659.5 270.3 L673.6 263.0 L687.7 259.0 L701.8 255.5 L715.9 252.0 L730.0 248.7 L744.1 245.5 L758.2 242.5 L772.3 239.5 L786.4 236.6 L800.5 233.9 L814.6 231.2 L828.7 228.7 L842.8 226.3 L857.0 224.0 L871.1 221.8 L885.2 219.7 L899.3 217.8 L913.4 215.9 L927.5 214.2 L941.6 212.6 L955.7 211.1 L969.8 209.7 L983.9 208.4"/>
</g>
<rect x="628.6" y="43.8" width="456.40" height="267.25" fill="none" stroke="#111" stroke-width="1.75"/>
<path d="M645.40 311.05 v-9.0 M715.92 311.05 v-17.0 M786.43 311.05 v-17.0 M856.95 311.05 v-17.0 M927.47 311.05 v-17.0 M997.98 311.05 v-17.0 M1068.50 311.05 v-17.0 M628.6 301.20 h9.0 M628.6 239.31 h17.0 M628.6 177.43 h17.0 M628.6 115.54 h17.0 M628.6 53.65 h17.0" fill="none" stroke="#111" stroke-width="1.75"/>
<text x="645.40" y="341.45" text-anchor="middle" textLength="11.40" lengthAdjust="spacingAndGlyphs" class="tk">0</text>
<text x="715.92" y="341.45" text-anchor="middle" textLength="11.40" lengthAdjust="spacingAndGlyphs" class="tk">5</text>
<text x="785.83" y="341.45" text-anchor="middle" textLength="22.80" lengthAdjust="spacingAndGlyphs" class="tk">10</text>
<text x="856.95" y="341.45" text-anchor="middle" textLength="22.80" lengthAdjust="spacingAndGlyphs" class="tk">15</text>
<text x="927.47" y="341.45" text-anchor="middle" textLength="22.80" lengthAdjust="spacingAndGlyphs" class="tk">20</text>
<text x="997.98" y="341.45" text-anchor="middle" textLength="22.80" lengthAdjust="spacingAndGlyphs" class="tk">25</text>
<text x="1067.50" y="341.45" text-anchor="middle" textLength="22.80" lengthAdjust="spacingAndGlyphs" class="tk">30</text>
<text x="604.40" y="307.10" text-anchor="middle" textLength="11.40" lengthAdjust="spacingAndGlyphs" class="tk">0</text>
<text x="604.40" y="245.01" text-anchor="middle" textLength="11.40" lengthAdjust="spacingAndGlyphs" class="tk">2</text>
<text x="604.40" y="183.03" text-anchor="middle" textLength="11.40" lengthAdjust="spacingAndGlyphs" class="tk">4</text>
<text x="604.40" y="121.04" text-anchor="middle" textLength="11.40" lengthAdjust="spacingAndGlyphs" class="tk">6</text>
<text x="604.40" y="60.25" text-anchor="middle" textLength="11.40" lengthAdjust="spacingAndGlyphs" class="tk">8</text>
<text x="653.50" y="72.80" text-anchor="start" textLength="18.58" lengthAdjust="spacingAndGlyphs">D</text>
<text x="651.50" y="106.30" text-anchor="start" textLength="66.51" lengthAdjust="spacingAndGlyphs">LPu16</text>
</g>
<g id="panelE">
<g fill="none" stroke="#000" stroke-width="1.4" stroke-linejoin="round" stroke-dasharray="1.4 5.7">
<path d="M659.5 619.9 L673.6 592.4 L687.7 568.0 L701.8 546.3 L715.9 527.2 L730.0 510.2 L744.1 495.3 L758.2 482.2 L772.3 470.7 L786.4 460.5 L800.5 451.6 L814.6 443.8 L828.7 437.0 L842.8 431.0 L857.0 425.8 L871.1 421.2 L885.2 417.2 L899.3 413.8 L913.4 410.9 L927.5 408.4 L941.6 406.3 L955.7 404.5 L969.8 403.2"/>
<path d="M659.5 619.9 L673.6 596.2 L687.7 577.2 L701.8 561.4 L715.9 547.7 L730.0 535.5 L744.1 524.5 L758.2 514.4 L772.3 505.2 L786.4 496.6 L800.5 488.6 L814.6 481.3 L828.7 474.5 L842.8 468.2 L857.0 462.5 L871.1 457.1 L885.2 452.3 L899.3 447.8 L913.4 443.8 L927.5 440.2 L941.6 437.0 L955.7 434.2"/>
<path d="M659.5 619.9 L673.6 598.3 L687.7 581.6 L701.8 567.5 L715.9 554.9 L730.0 543.3 L744.1 532.4 L758.2 522.1 L772.3 512.4 L786.4 503.3 L800.5 494.7 L814.6 486.7 L828.7 479.2 L842.8 472.3 L857.0 466.0 L871.1 460.2 L885.2 455.0 L899.3 450.3 L913.4 446.2 L927.5 442.7 L941.6 439.7 L955.7 437.3 L969.8 435.5 L983.9 434.2"/>
<path d="M659.5 619.9 L673.6 598.5 L687.7 582.1 L701.8 568.5 L715.9 556.4 L730.0 545.2 L744.1 534.8 L758.2 525.0 L772.3 515.7 L786.4 506.9 L800.5 498.7 L814.6 490.9 L828.7 483.5 L842.8 476.6 L857.0 470.1 L871.1 463.9 L885.2 458.2 L899.3 452.7 L913.4 447.7 L927.5 442.9 L941.6 438.4 L955.7 434.2"/>
<path d="M659.5 619.9 L673.6 601.1 L687.7 587.6 L701.8 576.6 L715.9 566.7 L730.0 557.6 L744.1 549.0 L758.2 540.8 L772.3 533.0 L786.4 525.6 L800.5 518.4 L814.6 511.6 L828.7 505.0 L842.8 498.6 L857.0 492.5 L871.1 486.5 L885.2 480.7 L899.3 475.1 L913.4 469.6 L927.5 464.2 L941.6 458.9 L955.7 453.8 L969.8 448.7 L983.9 443.8 L998.0 438.9 L1012.1 434.2"/>
<path d="M659.5 619.9 L673.6 597.6 L687.7 580.5 L701.8 566.6 L715.9 554.7 L730.0 544.3 L744.1 535.0 L758.2 526.6 L772.3 519.0 L786.4 512.1 L800.5 505.9 L814.6 500.2 L828.7 495.1 L842.8 490.6 L857.0 486.5 L871.1 482.8 L885.2 479.5 L899.3 476.6 L913.4 474.0 L927.5 471.7 L941.6 469.7 L955.7 467.9 L969.8 466.4 L983.9 465.1"/>
<path d="M659.5 619.9 L673.6 598.9 L687.7 583.3 L701.8 570.6 L715.9 559.8 L730.0 550.1 L744.1 541.3 L758.2 533.2 L772.3 525.7 L786.4 518.7 L800.5 512.2 L814.6 506.2 L828.7 500.6 L842.8 495.4 L857.0 490.6 L871.1 486.1 L885.2 481.9 L899.3 478.0 L913.4 474.4 L927.5 471.0 L941.6 467.9 L955.7 465.1"/>
<path d="M659.5 619.9 L673.6 599.6 L687.7 584.9 L701.8 573.1 L715.9 563.0 L730.0 554.1 L744.1 545.9 L758.2 538.4 L772.3 531.5 L786.4 525.1 L800.5 519.2 L814.6 513.6 L828.7 508.3 L842.8 503.4 L857.0 498.7 L871.1 494.1 L885.2 489.8 L899.3 485.5 L913.4 481.4 L927.5 477.3 L941.6 473.2 L955.7 469.2 L969.8 465.1"/>
<path d="M659.5 619.9 L673.6 600.2 L687.7 586.0 L701.8 574.7 L715.9 565.0 L730.0 556.2 L744.1 548.3 L758.2 540.9 L772.3 534.1 L786.4 527.8 L800.5 521.9 L814.6 516.4 L828.7 511.2 L842.8 506.3 L857.0 501.6 L871.1 497.1 L885.2 492.9 L899.3 488.7 L913.4 484.6 L927.5 480.7 L941.6 476.8 L955.7 472.9 L969.8 469.0 L983.9 465.1"/>
<path d="M659.5 619.9 L673.6 598.3 L687.7 582.4 L701.8 570.1 L715.9 560.1 L730.0 551.8 L744.1 544.8 L758.2 538.7 L772.3 533.4 L786.4 528.7 L800.5 524.6 L814.6 521.0 L828.7 517.7 L842.8 514.8 L857.0 512.2 L871.1 509.8 L885.2 507.6 L899.3 505.6 L913.4 503.7 L927.5 501.9 L941.6 500.3 L955.7 498.8 L969.8 497.4 L983.9 496.1"/>
<path d="M659.5 619.9 L673.6 600.0 L687.7 586.1 L701.8 575.5 L715.9 567.0 L730.0 560.0 L744.1 553.9 L758.2 548.6 L772.3 543.9 L786.4 539.8 L800.5 536.1 L814.6 532.8 L828.7 529.7 L842.8 526.9 L857.0 524.2 L871.1 521.7 L885.2 519.2 L899.3 516.8 L913.4 514.5 L927.5 512.2 L941.6 509.9 L955.7 507.6 L969.8 505.3 L983.9 503.0 L998.0 500.7 L1012.1 498.4 L1026.2 496.1"/>
<path d="M659.5 619.9 L673.6 599.7 L687.7 585.6 L701.8 575.0 L715.9 566.5 L730.0 559.4 L744.1 553.2 L758.2 547.8 L772.3 542.9 L786.4 538.5 L800.5 534.4 L814.6 530.6 L828.7 527.1 L842.8 523.8 L857.0 520.6 L871.1 517.6 L885.2 514.7 L899.3 511.9 L913.4 509.1 L927.5 506.5 L941.6 503.8 L955.7 501.2 L969.8 498.7 L983.9 496.1"/>
<path d="M659.5 619.9 L673.6 597.6 L687.7 580.9 L701.8 568.1 L715.9 558.0 L730.0 549.7 L744.1 542.6 L758.2 536.6 L772.3 531.3 L786.4 526.6 L800.5 522.5 L814.6 518.7 L828.7 515.3 L842.8 512.2 L857.0 509.5 L871.1 506.9 L885.2 504.7 L899.3 502.6 L913.4 500.7 L927.5 499.0 L941.6 497.5 L955.7 496.1"/>
<path d="M659.5 619.9 L673.6 595.8 L687.7 577.2 L701.8 563.1 L715.9 552.5 L730.0 544.7 L744.1 539.0 L758.2 534.9 L772.3 532.1 L786.4 530.2 L800.5 528.9 L814.6 528.1 L828.7 527.6 L842.8 527.3 L857.0 527.2 L871.1 527.1 L885.2 527.1 L899.3 527.1 L913.4 527.1 L927.5 527.0 L941.6 527.0 L955.7 527.0 L969.8 527.0 L983.9 527.0"/>
<path d="M659.5 619.9 L673.6 597.4 L687.7 580.8 L701.8 568.5 L715.9 559.1 L730.0 552.0 L744.1 546.4 L758.2 542.1 L772.3 538.6 L786.4 535.9 L800.5 533.7 L814.6 531.9 L828.7 530.6 L842.8 529.5 L857.0 528.7 L871.1 528.1 L885.2 527.7 L899.3 527.4 L913.4 527.2 L927.5 527.1 L941.6 527.1 L955.7 527.0 L969.8 527.0 L983.9 527.0"/>
<path d="M659.5 619.9 L673.6 600.3 L687.7 587.1 L701.8 577.6 L715.9 570.3 L730.0 564.3 L744.1 559.3 L758.2 555.0 L772.3 551.2 L786.4 547.8 L800.5 544.7 L814.6 541.9 L828.7 539.4 L842.8 537.2 L857.0 535.1 L871.1 533.3 L885.2 531.8 L899.3 530.4 L913.4 529.3 L927.5 528.4 L941.6 527.7 L955.7 527.3 L969.8 527.0 L983.9 527.0"/>
<path d="M659.5 619.9 L673.6 603.7 L687.7 593.4 L701.8 585.7 L715.9 579.3 L730.0 573.7 L744.1 568.7 L758.2 564.3 L772.3 560.4 L786.4 556.8 L800.5 553.5 L814.6 550.5 L828.7 547.7 L842.8 545.2 L857.0 542.8 L871.1 540.6 L885.2 538.5 L899.3 536.5 L913.4 534.6 L927.5 532.9 L941.6 531.3 L955.7 529.7 L969.8 528.3 L983.9 527.0"/>
<path d="M659.5 619.9 L673.6 605.4 L687.7 596.6 L701.8 590.1 L715.9 584.6 L730.0 579.7 L744.1 575.4 L758.2 571.5 L772.3 567.9 L786.4 564.6 L800.5 561.5 L814.6 558.6 L828.7 555.8 L842.8 553.0 L857.0 550.4 L871.1 547.7 L885.2 545.1 L899.3 542.5 L913.4 540.0 L927.5 537.4 L941.6 534.8 L955.7 532.2 L969.8 529.6 L983.9 527.0"/>
<path d="M659.5 619.9 L673.6 600.0 L687.7 586.6 L701.8 577.1 L715.9 570.0 L730.0 564.4 L744.1 559.9 L758.2 556.0 L772.3 552.7 L786.4 549.8 L800.5 547.2 L814.6 544.8 L828.7 542.6 L842.8 540.6 L857.0 538.8 L871.1 537.1 L885.2 535.5 L899.3 534.0 L913.4 532.5 L927.5 531.1 L941.6 529.7 L955.7 528.4 L969.8 527.0"/>
<path d="M659.5 619.9 L673.6 600.2 L687.7 587.3 L701.8 578.8 L715.9 572.9 L730.0 568.8 L744.1 565.8 L758.2 563.7 L772.3 562.1 L786.4 560.9 L800.5 560.1 L814.6 559.4 L828.7 559.0 L842.8 558.7 L857.0 558.4 L871.1 558.3 L885.2 558.2 L899.3 558.1 L913.4 558.1 L927.5 558.0 L941.6 558.0 L955.7 558.0 L969.8 558.0 L983.9 558.0 L998.0 558.0 L1012.1 558.0 L1026.2 558.0 L1040.3 558.0"/>
<path d="M659.5 619.9 L673.6 600.2 L687.7 587.4 L701.8 578.9 L715.9 573.1 L730.0 569.0 L744.1 566.0 L758.2 563.9 L772.3 562.3 L786.4 561.1 L800.5 560.2 L814.6 559.5 L828.7 559.0 L842.8 558.6 L857.0 558.4 L871.1 558.2 L885.2 558.1 L899.3 558.1 L913.4 558.0 L927.5 558.0 L941.6 558.0 L955.7 558.0 L969.8 558.0 L983.9 558.0"/>
<path d="M659.5 619.9 L673.6 602.8 L687.7 592.1 L701.8 584.7 L715.9 579.2 L730.0 574.8 L744.1 571.3 L758.2 568.4 L772.3 566.1 L786.4 564.3 L800.5 562.8 L814.6 561.6 L828.7 560.6 L842.8 559.9 L857.0 559.3 L871.1 558.9 L885.2 558.5 L899.3 558.3 L913.4 558.2 L927.5 558.1 L941.6 558.0 L955.7 558.0 L969.8 558.0 L983.9 558.0"/>
<path d="M659.5 619.9 L673.6 605.5 L687.7 596.9 L701.8 590.7 L715.9 585.7 L730.0 581.4 L744.1 577.8 L758.2 574.7 L772.3 572.0 L786.4 569.7 L800.5 567.7 L814.6 566.0 L828.7 564.5 L842.8 563.2 L857.0 562.1 L871.1 561.2 L885.2 560.4 L899.3 559.7 L913.4 559.1 L927.5 558.7 L941.6 558.3 L955.7 558.1 L969.8 558.0 L983.9 558.0"/>
<path d="M659.5 619.9 L673.6 610.3 L687.7 604.9 L701.8 600.5 L715.9 596.5 L730.0 592.8 L744.1 589.3 L758.2 586.2 L772.3 583.2 L786.4 580.5 L800.5 578.0 L814.6 575.7 L828.7 573.6 L842.8 571.6 L857.0 569.8 L871.1 568.0 L885.2 566.4 L899.3 564.9 L913.4 563.5 L927.5 562.1 L941.6 560.7 L955.7 559.4 L969.8 558.0"/>
<path d="M659.5 619.9 L673.6 606.9 L687.7 599.3 L701.8 593.5 L715.9 588.5 L730.0 584.1 L744.1 580.2 L758.2 576.8 L772.3 573.8 L786.4 571.1 L800.5 568.8 L814.6 566.9 L828.7 565.1 L842.8 563.7 L857.0 562.4 L871.1 561.4 L885.2 560.5 L899.3 559.7 L913.4 559.1 L927.5 558.7 L941.6 558.3 L955.7 558.1 L969.8 558.0 L983.9 558.0"/>
<path d="M659.5 619.9 L673.6 610.6 L687.7 605.5 L701.8 601.3 L715.9 597.3 L730.0 593.7 L744.1 590.3 L758.2 587.2 L772.3 584.3 L786.4 581.6 L800.5 579.2 L814.6 576.9 L828.7 574.7 L842.8 572.7 L857.0 570.9 L871.1 569.2 L885.2 567.6 L899.3 566.1 L913.4 564.6 L927.5 563.2 L941.6 561.9 L955.7 560.6 L969.8 559.3 L983.9 558.0"/>
<path d="M659.5 619.9 L673.6 617.2 L687.7 615.9 L701.8 614.6 L715.9 613.2 L730.0 611.9 L744.1 610.5 L758.2 609.2 L772.3 607.8 L786.4 606.5 L800.5 605.1 L814.6 603.8 L828.7 602.4 L842.8 601.1 L857.0 599.7 L871.1 598.4 L885.2 597.1 L899.3 595.7 L913.4 594.4 L927.5 593.0 L941.6 591.7 L955.7 590.3 L969.8 589.0"/>
</g>
<rect x="628.6" y="393.4" width="456.40" height="267.00" fill="none" stroke="#111" stroke-width="1.75"/>
<path d="M645.40 660.4 v-9.0 M715.92 660.4 v-17.0 M786.43 660.4 v-17.0 M856.95 660.4 v-17.0 M927.47 660.4 v-17.0 M997.98 660.4 v-17.0 M1068.50 660.4 v-17.0 M628.6 650.90 h9.0 M628.6 588.98 h17.0 M628.6 527.05 h17.0 M628.6 465.12 h17.0 M628.6 403.20 h17.0" fill="none" stroke="#111" stroke-width="1.75"/>
<text x="645.40" y="691.20" text-anchor="middle" textLength="11.40" lengthAdjust="spacingAndGlyphs" class="tk">0</text>
<text x="715.92" y="691.20" text-anchor="middle" textLength="11.40" lengthAdjust="spacingAndGlyphs" class="tk">5</text>
<text x="785.83" y="691.20" text-anchor="middle" textLength="22.80" lengthAdjust="spacingAndGlyphs" class="tk">10</text>
<text x="856.95" y="691.20" text-anchor="middle" textLength="22.80" lengthAdjust="spacingAndGlyphs" class="tk">15</text>
<text x="927.47" y="691.20" text-anchor="middle" textLength="22.80" lengthAdjust="spacingAndGlyphs" class="tk">20</text>
<text x="997.98" y="691.20" text-anchor="middle" textLength="22.80" lengthAdjust="spacingAndGlyphs" class="tk">25</text>
<text x="1067.50" y="691.20" text-anchor="middle" textLength="22.80" lengthAdjust="spacingAndGlyphs" class="tk">30</text>
<text x="604.40" y="656.80" text-anchor="middle" textLength="11.40" lengthAdjust="spacingAndGlyphs" class="tk">0</text>
<text x="604.40" y="594.68" text-anchor="middle" textLength="11.40" lengthAdjust="spacingAndGlyphs" class="tk">2</text>
<text x="604.40" y="532.65" text-anchor="middle" textLength="11.40" lengthAdjust="spacingAndGlyphs" class="tk">4</text>
<text x="604.40" y="470.62" text-anchor="middle" textLength="11.40" lengthAdjust="spacingAndGlyphs" class="tk">6</text>
<text x="604.40" y="409.80" text-anchor="middle" textLength="11.40" lengthAdjust="spacingAndGlyphs" class="tk">8</text>
<text x="651.50" y="425.80" text-anchor="start" textLength="15.61" lengthAdjust="spacingAndGlyphs">E</text>
<text x="650.50" y="459.20" text-anchor="start" textLength="66.56" lengthAdjust="spacingAndGlyphs">LPu20</text>
</g>
<g id="panelF">
<g fill="none" stroke="#000" stroke-width="1.4" stroke-linejoin="round" stroke-dasharray="1.4 5.7">
<path d="M659.5 971.4 L673.6 947.4 L687.7 928.8 L701.8 914.4 L715.9 903.1 L730.0 894.2 L744.1 887.2 L758.2 881.6 L772.3 877.0 L786.4 873.1 L800.5 869.9 L814.6 867.1 L828.7 864.7 L842.8 862.5 L857.0 860.6 L871.1 858.8 L885.2 857.2 L899.3 855.7 L913.4 854.2 L927.5 852.8 L941.6 851.5 L955.7 850.2 L969.8 848.9 L983.9 847.6"/>
<path d="M659.5 971.4 L673.6 948.2 L687.7 930.6 L701.8 917.1 L715.9 906.4 L730.0 898.0 L744.1 891.1 L758.2 885.5 L772.3 880.9 L786.4 876.9 L800.5 873.6 L814.6 870.7 L828.7 868.2 L842.8 865.9 L857.0 863.9 L871.1 862.1 L885.2 860.4 L899.3 858.8 L913.4 857.4 L927.5 856.0 L941.6 854.7 L955.7 853.5 L969.8 852.2 L983.9 851.1 L998.0 849.9 L1012.1 848.8 L1026.2 847.6"/>
<path d="M659.5 971.4 L673.6 949.2 L687.7 933.0 L701.8 921.0 L715.9 912.1 L730.0 905.2 L744.1 899.9 L758.2 895.8 L772.3 892.5 L786.4 889.8 L800.5 887.7 L814.6 885.9 L828.7 884.4 L842.8 883.1 L857.0 882.1 L871.1 881.2 L885.2 880.4 L899.3 879.8 L913.4 879.3 L927.5 878.9 L941.6 878.7 L955.7 878.6 L969.8 878.6"/>
<path d="M659.5 971.4 L673.6 949.2 L687.7 933.4 L701.8 922.2 L715.9 914.3 L730.0 908.6 L744.1 904.6 L758.2 901.5 L772.3 899.2 L786.4 897.3 L800.5 895.7 L814.6 894.2 L828.7 892.8 L842.8 891.5 L857.0 890.2 L871.1 888.9 L885.2 887.6 L899.3 886.3 L913.4 885.0 L927.5 883.7 L941.6 882.4 L955.7 881.2 L969.8 879.9 L983.9 878.6"/>
<path d="M659.5 971.4 L673.6 951.2 L687.7 937.4 L701.8 927.7 L715.9 920.6 L730.0 915.1 L744.1 910.8 L758.2 907.2 L772.3 904.2 L786.4 901.7 L800.5 899.4 L814.6 897.4 L828.7 895.6 L842.8 893.9 L857.0 892.4 L871.1 890.9 L885.2 889.6 L899.3 888.2 L913.4 887.0 L927.5 885.7 L941.6 884.5 L955.7 883.3 L969.8 882.1 L983.9 881.0 L998.0 879.8 L1012.1 878.6"/>
<path d="M659.5 971.4 L673.6 948.0 L687.7 930.3 L701.8 917.0 L715.9 907.0 L730.0 899.5 L744.1 894.0 L758.2 889.8 L772.3 886.7 L786.4 884.4 L800.5 882.6 L814.6 881.4 L828.7 880.4 L842.8 879.8 L857.0 879.3 L871.1 879.0 L885.2 878.8 L899.3 878.7 L913.4 878.6 L927.5 878.6 L941.6 878.6 L955.7 878.6"/>
<path d="M659.5 971.4 L673.6 950.7 L687.7 936.2 L701.8 925.7 L715.9 917.7 L730.0 911.3 L744.1 906.0 L758.2 901.6 L772.3 897.9 L786.4 894.7 L800.5 891.9 L814.6 889.4 L828.7 887.3 L842.8 885.5 L857.0 883.9 L871.1 882.6 L885.2 881.5 L899.3 880.6 L913.4 879.8 L927.5 879.3 L941.6 878.9 L955.7 878.7 L969.8 878.6 L983.9 878.6"/>
<path d="M659.5 971.4 L673.6 951.6 L687.7 938.9 L701.8 930.5 L715.9 924.9 L730.0 921.0 L744.1 918.3 L758.2 916.2 L772.3 914.6 L786.4 913.4 L800.5 912.4 L814.6 911.6 L828.7 911.0 L842.8 910.6 L857.0 910.2 L871.1 910.0 L885.2 909.8 L899.3 909.7 L913.4 909.6 L927.5 909.6 L941.6 909.5 L955.7 909.5 L969.8 909.5 L983.9 909.5 L998.0 909.5 L1012.1 909.5"/>
<path d="M659.5 971.4 L673.6 953.4 L687.7 942.6 L701.8 935.8 L715.9 931.2 L730.0 927.9 L744.1 925.4 L758.2 923.3 L772.3 921.4 L786.4 919.8 L800.5 918.3 L814.6 916.9 L828.7 915.7 L842.8 914.6 L857.0 913.6 L871.1 912.7 L885.2 911.9 L899.3 911.2 L913.4 910.7 L927.5 910.2 L941.6 909.9 L955.7 909.6 L969.8 909.5 L983.9 909.5"/>
<path d="M659.5 971.4 L673.6 957.8 L687.7 950.3 L701.8 945.1 L715.9 941.1 L730.0 937.8 L744.1 935.1 L758.2 932.7 L772.3 930.7 L786.4 929.0 L800.5 927.4 L814.6 925.9 L828.7 924.6 L842.8 923.2 L857.0 922.0 L871.1 920.7 L885.2 919.4 L899.3 918.2 L913.4 917.0 L927.5 915.7 L941.6 914.5 L955.7 913.2 L969.8 912.0 L983.9 910.8 L998.0 909.5"/>
<path d="M659.5 971.4 L673.6 950.0 L687.7 935.5 L701.8 925.7 L715.9 919.4 L730.0 915.4 L744.1 912.9 L758.2 911.4 L772.3 910.5 L786.4 910.0 L800.5 909.8 L814.6 909.6 L828.7 909.6 L842.8 909.5 L857.0 909.5 L871.1 909.5 L885.2 909.5 L899.3 909.5 L913.4 909.5 L927.5 909.5 L941.6 909.5 L955.7 909.5 L969.8 909.5 L983.9 909.5"/>
<path d="M659.5 971.4 L673.6 953.1 L687.7 941.6 L701.8 934.1 L715.9 928.7 L730.0 924.8 L744.1 921.8 L758.2 919.4 L772.3 917.4 L786.4 915.8 L800.5 914.5 L814.6 913.4 L828.7 912.5 L842.8 911.8 L857.0 911.1 L871.1 910.7 L885.2 910.3 L899.3 910.0 L913.4 909.8 L927.5 909.7 L941.6 909.6 L955.7 909.5 L969.8 909.5 L983.9 909.5 L998.0 909.5"/>
<path d="M659.5 971.4 L673.6 955.7 L687.7 946.4 L701.8 940.0 L715.9 935.0 L730.0 931.0 L744.1 927.6 L758.2 924.8 L772.3 922.5 L786.4 920.4 L800.5 918.7 L814.6 917.1 L828.7 915.8 L842.8 914.6 L857.0 913.6 L871.1 912.7 L885.2 911.9 L899.3 911.2 L913.4 910.7 L927.5 910.2 L941.6 909.9 L955.7 909.6 L969.8 909.5 L983.9 909.5"/>
<path d="M659.5 971.4 L673.6 960.3 L687.7 954.2 L701.8 949.5 L715.9 945.3 L730.0 941.7 L744.1 938.4 L758.2 935.5 L772.3 932.9 L786.4 930.5 L800.5 928.4 L814.6 926.5 L828.7 924.7 L842.8 923.0 L857.0 921.5 L871.1 920.1 L885.2 918.7 L899.3 917.3 L913.4 916.0 L927.5 914.7 L941.6 913.4 L955.7 912.1 L969.8 910.8 L983.9 909.5"/>
<path d="M659.5 971.4 L673.6 956.8 L687.7 947.8 L701.8 941.2 L715.9 935.7 L730.0 930.9 L744.1 926.9 L758.2 923.4 L772.3 920.5 L786.4 918.0 L800.5 916.0 L814.6 914.3 L828.7 913.0 L842.8 912.0 L857.0 911.2 L871.1 910.6 L885.2 910.2 L899.3 909.9 L913.4 909.7 L927.5 909.6 L941.6 909.5 L955.7 909.5 L969.8 909.5 L983.9 909.5"/>
<path d="M659.5 971.4 L673.6 955.2 L687.7 947.0 L701.8 943.2 L715.9 941.5 L730.0 940.8 L744.1 940.6 L758.2 940.5 L772.3 940.5 L786.4 940.5 L800.5 940.5 L814.6 940.5 L828.7 940.5 L842.8 940.5 L857.0 940.5 L871.1 940.5 L885.2 940.5 L899.3 940.5 L913.4 940.5"/>
<path d="M659.5 971.4 L673.6 968.9 L687.7 967.6 L701.8 966.3 L715.9 965.0 L730.0 963.7 L744.1 962.4 L758.2 961.1 L772.3 959.8 L786.4 958.5 L800.5 957.3 L814.6 956.0 L828.7 954.7 L842.8 953.4 L857.0 952.1 L871.1 950.8 L885.2 949.5 L899.3 948.2 L913.4 946.9 L927.5 945.6 L941.6 944.4 L955.7 943.1 L969.8 941.8 L983.9 940.5"/>
</g>
<rect x="628.6" y="744.9" width="456.40" height="267.00" fill="none" stroke="#111" stroke-width="1.75"/>
<path d="M645.40 1011.9 v-9.0 M715.92 1011.9 v-17.0 M786.43 1011.9 v-17.0 M856.95 1011.9 v-17.0 M927.47 1011.9 v-17.0 M997.98 1011.9 v-17.0 M1068.50 1011.9 v-17.0 M628.6 1002.40 h9.0 M628.6 940.49 h17.0 M628.6 878.58 h17.0 M628.6 816.66 h17.0 M628.6 754.75 h17.0" fill="none" stroke="#111" stroke-width="1.75"/>
<text x="645.40" y="1042.30" text-anchor="middle" textLength="11.40" lengthAdjust="spacingAndGlyphs" class="tk">0</text>
<text x="715.92" y="1042.30" text-anchor="middle" textLength="11.40" lengthAdjust="spacingAndGlyphs" class="tk">5</text>
<text x="785.83" y="1042.30" text-anchor="middle" textLength="22.80" lengthAdjust="spacingAndGlyphs" class="tk">10</text>
<text x="856.95" y="1042.30" text-anchor="middle" textLength="22.80" lengthAdjust="spacingAndGlyphs" class="tk">15</text>
<text x="927.47" y="1042.30" text-anchor="middle" textLength="22.80" lengthAdjust="spacingAndGlyphs" class="tk">20</text>
<text x="997.98" y="1042.30" text-anchor="middle" textLength="22.80" lengthAdjust="spacingAndGlyphs" class="tk">25</text>
<text x="1067.50" y="1042.30" text-anchor="middle" textLength="22.80" lengthAdjust="spacingAndGlyphs" class="tk">30</text>
<text x="604.40" y="1008.30" text-anchor="middle" textLength="11.40" lengthAdjust="spacingAndGlyphs" class="tk">0</text>
<text x="604.40" y="946.19" text-anchor="middle" textLength="11.40" lengthAdjust="spacingAndGlyphs" class="tk">2</text>
<text x="604.40" y="884.18" text-anchor="middle" textLength="11.40" lengthAdjust="spacingAndGlyphs" class="tk">4</text>
<text x="604.40" y="822.16" text-anchor="middle" textLength="11.40" lengthAdjust="spacingAndGlyphs" class="tk">6</text>
<text x="604.40" y="761.35" text-anchor="middle" textLength="11.40" lengthAdjust="spacingAndGlyphs" class="tk">8</text>
<text x="651.50" y="779.00" text-anchor="start" textLength="14.67" lengthAdjust="spacingAndGlyphs">F</text>
<text x="651.50" y="811.40" text-anchor="start" textLength="65.53" lengthAdjust="spacingAndGlyphs">LPu27</text>
</g>
<text x="240.50" y="15.40" text-anchor="start" textLength="108.56" lengthAdjust="spacingAndGlyphs">Fungal loci</text>
<text x="815.50" y="15.30" text-anchor="start" textLength="90.60" lengthAdjust="spacingAndGlyphs">Algal loci</text>
<text x="479.50" y="1076.50" text-anchor="start" textLength="189.54" lengthAdjust="spacingAndGlyphs">Number of samples</text>
<text transform="translate(15.1 528.5) rotate(-90)" text-anchor="middle" textLength="169.3" lengthAdjust="spacingAndGlyphs">Number of alleles</text>
</svg>
</body>
</html>
